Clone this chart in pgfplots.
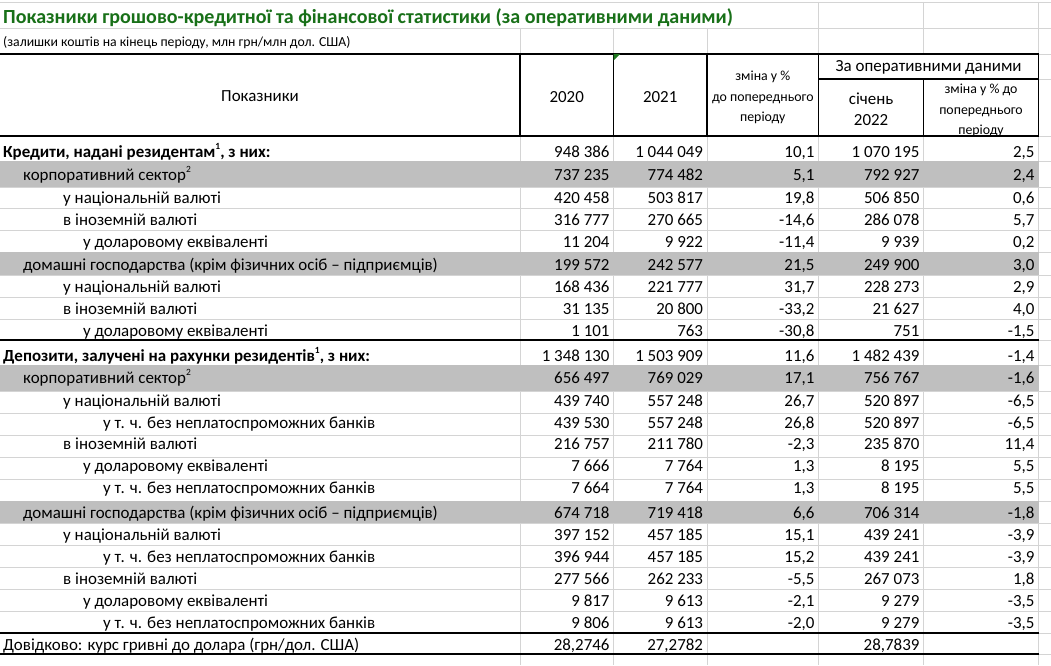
\documentclass[border=0pt]{standalone}
\usepackage{fontspec}
\setmainfont{Carlito}
\usepackage{pgfplots}
\usepackage{pgfplotstable}
\pgfplotsset{compat=1.18}
\definecolor{gridc}{RGB}{212,212,212}
\definecolor{band}{RGB}{191,191,191}
\definecolor{titlegreen}{RGB}{24,112,24}
\definecolor{tri}{RGB}{30,120,30}
\newcommand{\mainfs}{\fontsize{17}{20}\selectfont}
\newcommand{\smallfs}{\fontsize{13.9}{16}\selectfont}
\newcommand{\supnum}[1]{\raisebox{0.45em}{\fontsize{9.5}{10}\selectfont #1}}

\pgfplotstableread[col sep=semicolon]{
y;a;b;c;d;e
157;948 386;1 044 049;10,1;1 070 195;2,5
180;737 235;774 482;5,1;792 927;2,4
203;420 458;503 817;19,8;506 850;0,6
225;316 777;270 665;-14,6;286 078;5,7
247;11 204;9 922;-11,4;9 939;0,2
270;199 572;242 577;21,5;249 900;3,0
292;168 436;221 777;31,7;228 273;2,9
314;31 135;20 800;-33,2;21 627;4,0
336;1 101;763;-30,8;751;-1,5
361;1 348 130;1 503 909;11,6;1 482 439;-1,4
383;656 497;769 029;17,1;756 767;-1,6
406;439 740;557 248;26,7;520 897;-6,5
428;439 530;557 248;26,8;520 897;-6,5
449;216 757;211 780;-2,3;235 870;11,4
471;7 666;7 764;1,3;8 195;5,5
493;7 664;7 764;1,3;8 195;5,5
518;674 718;719 418;6,6;706 314;-1,8
540;397 152;457 185;15,1;439 241;-3,9
562;396 944;457 185;15,2;439 241;-3,9
584;277 566;262 233;-5,5;267 073;1,8
606;9 817;9 613;-2,1;9 279;-3,5
628;9 806;9 613;-2,0;9 279;-3,5
}\datatab

\pgfplotstableread[col sep=semicolon]{
y;a;b;d
650;28,2746;27,2782;28,7839
}\memotab

\pgfplotsset{
  valcol/.style={draw=none, mark=none, nodes near coords={\pgfplotspointmeta},
    point meta=explicit symbolic,
    every node near coord/.append style={anchor=base east, inner sep=0pt,
      font=\mainfs, text=black}},
}

\begin{document}
\begin{tikzpicture}
\begin{axis}[
  width=1051bp, height=665bp, scale only axis,
  xmin=0, xmax=1051, ymin=0, ymax=665, y dir=reverse,
  hide axis, clip=false,
]
% background
\fill[white] (0,0) rectangle (1051,665);
% --- light grid lines ---
\pgfplotsinvokeforeach{2,28,161,187,208,230,252,275,297,319,365,391,413,435,457,479,501,523,545,567,589,611}{
  \draw[gridc, line width=0.9bp] (0,#1) -- (1051,#1);}
\pgfplotsinvokeforeach{54,79,136,340,633,654}{
  \draw[gridc, line width=0.9bp] (1038.6,#1) -- (1051,#1);}
\pgfplotsinvokeforeach{818.7,923.5,1038.6}{
  \draw[gridc, line width=0.9bp] (#1,2) -- (#1,54);}
\pgfplotsinvokeforeach{520,613.5,707}{
  \draw[gridc, line width=0.9bp] (#1,28) -- (#1,54);}
\pgfplotsinvokeforeach{520,613.5,707,818.7,923.5,1038.6}{
  \draw[gridc, line width=0.9bp] (#1,136) -- (#1,665);}
% --- grey bands ---
\fill[band] (0,161) rectangle (1038.6,187);
\fill[band] (0,252) rectangle (1038.6,275);
\fill[band] (0,365) rectangle (1038.6,391);
\fill[band] (0,501) rectangle (1038.6,523);
% header white
\fill[white] (0,54) rectangle (1038.6,136);
% --- black borders ---
\pgfplotsinvokeforeach{54,136,340,633,654}{
  \draw[black, line width=1.1bp] (0,#1) -- (1038.6,#1);}
\pgfplotsinvokeforeach{520,613.5,707,818.7,1038.6}{
  \draw[black, line width=1.1bp] (#1,54) -- (#1,136);}
\draw[black, line width=1.1bp] (923.5,79) -- (923.5,136);
\draw[black, line width=1.1bp] (818.7,79) -- (1038.6,79);
\fill[tri] (613.5,54) -- (620,54) -- (613.5,60.5) -- cycle;
% --- title and header ---
\node[anchor=base west, inner sep=0pt, text=titlegreen, font=\fontsize{20.1}{24}\selectfont\bfseries]
  at (3,24) {Показники грошово-кредитної та фінансової статистики (за оперативними даними)};
\node[anchor=base west, inner sep=0pt, font=\fontsize{13.8}{16}\selectfont]
  at (3,47) {(залишки коштів на кінець періоду, млн грн/млн дол. США)};
\begin{scope}[every node/.style={anchor=base, inner sep=0pt, font=\mainfs}]
\node at (260,101) {Показники};
\node at (566.7,102.5) {2020};
\node at (660.2,102.5) {2021};
\node at (928.6,72) {За оперативними даними};
\node at (871.1,104) {січень};
\node at (871.1,125) {2022};
\end{scope}
\begin{scope}[every node/.style={anchor=base, inner sep=0pt, font=\smallfs}]
\node at (762.8,80.5) {зміна у \%};
\node at (762.8,101) {до попереднього};
\node at (762.8,121) {періоду};
\node at (981,93.5) {зміна у \% до};
\node at (981,114) {попереднього};
\node at (981,134) {періоду};
\end{scope}
% --- row labels ---
\begin{scope}[every node/.style={anchor=base west, inner sep=0pt, font=\mainfs}]
\node[font=\mainfs\bfseries] at (3,157) {Кредити, надані резидентам\supnum{1}, з них:};
\node at (23,180) {корпоративний сектор\supnum{2}};
\node at (63,203) {у національній валюті};
\node at (63,225) {в іноземній валюті};
\node at (83,247) {у доларовому еквіваленті};
\node at (23,270) {домашні господарства (крім фізичних осіб – підприємців)};
\node at (63,292) {у національній валюті};
\node at (63,314) {в іноземній валюті};
\node at (83,336) {у доларовому еквіваленті};
\node[font=\mainfs\bfseries] at (3,361) {Депозити, залучені на рахунки резидентів\supnum{1}, з них:};
\node at (23,383) {корпоративний сектор\supnum{2}};
\node at (63,406) {у національній валюті};
\node at (103,428) {у т. ч. без неплатоспроможних банків};
\node at (63,449) {в іноземній валюті};
\node at (83,471) {у доларовому еквіваленті};
\node at (103,493) {у т. ч. без неплатоспроможних банків};
\node at (23,518) {домашні господарства (крім фізичних осіб – підприємців)};
\node at (63,540) {у національній валюті};
\node at (103,562) {у т. ч. без неплатоспроможних банків};
\node at (63,584) {в іноземній валюті};
\node at (83,606) {у доларовому еквіваленті};
\node at (103,628) {у т. ч. без неплатоспроможних банків};
\node at (3,650) {Довідково: курс гривні до долара (грн/дол. США)};
\end{scope}
% --- values ---
\addplot[valcol] table[x expr=609.7, y=y, meta=a] {\datatab};
\addplot[valcol] table[x expr=703.2, y=y, meta=b] {\datatab};
\addplot[valcol] table[x expr=814.6, y=y, meta=c] {\datatab};
\addplot[valcol] table[x expr=919.6, y=y, meta=d] {\datatab};
\addplot[valcol] table[x expr=1034.7, y=y, meta=e] {\datatab};
\addplot[valcol] table[x expr=609.7, y=y, meta=a] {\memotab};
\addplot[valcol] table[x expr=703.2, y=y, meta=b] {\memotab};
\addplot[valcol] table[x expr=919.6, y=y, meta=d] {\memotab};
\end{axis}
\pgfresetboundingbox
\path (current axis.south west) rectangle (current axis.north east);
\end{tikzpicture}
\end{document}
